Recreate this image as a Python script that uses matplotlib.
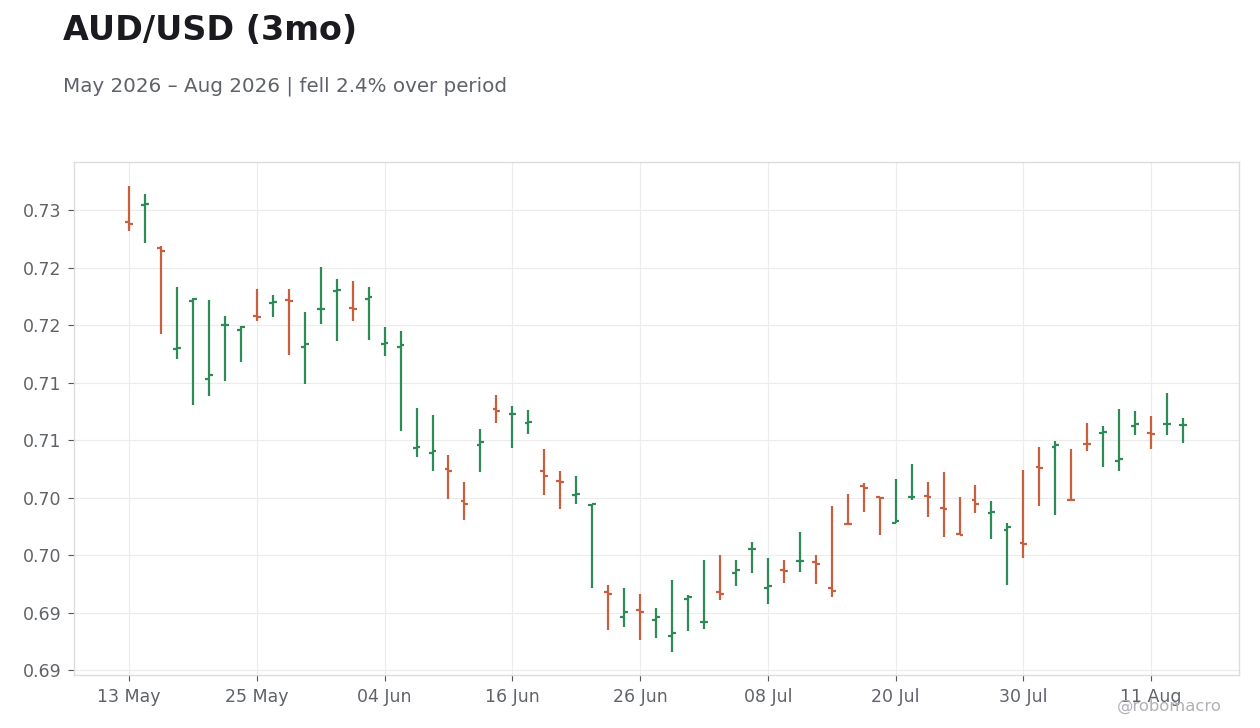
import matplotlib
matplotlib.use("Agg")
import matplotlib.pyplot as plt
import numpy as np
import pandas as pd

# ---- data ----
start_date = "2026-05-13"
n_bars = 67

opens = [0.72901, 0.73049, 0.72674, 0.71792, 0.72213, 0.71530, 0.72001, 0.71957, 0.72082, 0.72195,
         0.72221, 0.71809, 0.72140, 0.72297, 0.72152, 0.72233, 0.71838, 0.71812, 0.70932, 0.70889,
         0.70749, 0.70470, 0.70958, 0.71272, 0.71228, 0.71150, 0.70732, 0.70645, 0.70523, 0.70436,
         0.69678, 0.69460, 0.69521, 0.69434, 0.69294, 0.69617, 0.69416, 0.69678, 0.69843, 0.70052,
         0.69713, 0.69869, 0.69948, 0.69939, 0.69713, 0.70273, 0.70601, 0.70505, 0.70279, 0.70505,
         0.70514, 0.70409, 0.70183, 0.70479, 0.70366, 0.70218, 0.70105, 0.70767, 0.70941, 0.70481,
         0.70969, 0.71063, 0.70819, 0.71124, 0.71066, 0.71141, 0.71132]
highs = [0.73212, 0.73142, 0.72686, 0.72332, 0.72240, 0.72219, 0.72079, 0.71992, 0.72314, 0.72262,
         0.72314, 0.72114, 0.72506, 0.72402, 0.72384, 0.72332, 0.71983, 0.71949, 0.71278, 0.71217,
         0.70868, 0.70633, 0.71095, 0.71391, 0.71295, 0.71260, 0.70921, 0.70729, 0.70686, 0.70448,
         0.69736, 0.69710, 0.69666, 0.69544, 0.69788, 0.69649, 0.69955, 0.69997, 0.69955, 0.70110,
         0.69971, 0.69962, 0.70205, 0.69997, 0.70424, 0.70529, 0.70625, 0.70507, 0.70659, 0.70790,
         0.70633, 0.70720, 0.70503, 0.70607, 0.70468, 0.70279, 0.70741, 0.70938, 0.70993, 0.70921,
         0.71147, 0.71121, 0.71269, 0.71252, 0.71208, 0.71408, 0.71191]
lows = [0.72822, 0.72713, 0.71920, 0.71707, 0.71307, 0.71385, 0.71516, 0.71681, 0.72038, 0.72073,
        0.71742, 0.71490, 0.72012, 0.71864, 0.72038, 0.71873, 0.71733, 0.71080, 0.70854, 0.70732,
        0.70488, 0.70305, 0.70723, 0.71150, 0.70932, 0.71054, 0.70523, 0.70401, 0.70444, 0.69713,
        0.69347, 0.69373, 0.69260, 0.69277, 0.69155, 0.69338, 0.69355, 0.69608, 0.69730, 0.69843,
        0.69573, 0.69756, 0.69852, 0.69747, 0.69634, 0.70268, 0.70375, 0.70174, 0.70276, 0.70479,
        0.70331, 0.70157, 0.70172, 0.70366, 0.70139, 0.69739, 0.69974, 0.70427, 0.70348, 0.70477,
        0.70906, 0.70767, 0.70732, 0.71045, 0.70923, 0.71045, 0.70976]
closes = [0.72883, 0.73057, 0.72648, 0.71801, 0.72233, 0.71568, 0.72005, 0.71986, 0.72071, 0.72204,
          0.72213, 0.71838, 0.72143, 0.72306, 0.72140, 0.72245, 0.71847, 0.71827, 0.70941, 0.70906,
          0.70732, 0.70444, 0.70984, 0.71254, 0.71231, 0.71159, 0.70688, 0.70636, 0.70531, 0.70444,
          0.69660, 0.69504, 0.69504, 0.69460, 0.69321, 0.69634, 0.69419, 0.69660, 0.69869, 0.70055,
          0.69730, 0.69861, 0.69951, 0.69922, 0.69686, 0.70270, 0.70584, 0.70497, 0.70296, 0.70508,
          0.70505, 0.70401, 0.70174, 0.70444, 0.70375, 0.70244, 0.70096, 0.70758, 0.70958, 0.70479,
          0.70967, 0.71071, 0.70836, 0.71141, 0.71057, 0.71144, 0.71135]

ytick_values = [0.690, 0.695, 0.700, 0.705, 0.710, 0.715, 0.720, 0.725, 0.730]
ytick_labels = ["0.69", "0.69", "0.70", "0.70", "0.71", "0.71", "0.72", "0.72", "0.73"]
xtick_every = 8

title = "AUD/USD (3mo)"
subtitle = "May 2026 \u2013 Aug 2026 | fell 2.4% over period"
watermark = "@robomacro"

# ---- styling ----
UP = "#2e8b57"
DOWN = "#c8603f"
GRID = "#ececec"
SPINE = "#dcdcdc"
TXT = "#5f6368"

dates = pd.bdate_range(start_date, periods=n_bars)
x = np.arange(n_bars)
o = np.array(opens); h = np.array(highs); l = np.array(lows); c = np.array(closes)
cols = np.where(c >= o, UP, DOWN)

fig = plt.figure(figsize=(12.6, 7.28), dpi=100)
ax = fig.add_axes([74 / 1260, 1 - 675 / 728, (1239 - 74) / 1260, (675 - 162) / 728])

w = 0.24
ax.vlines(x, l, h, colors=cols, linewidth=1.6, zorder=3)
ax.hlines(o, x - w, x, colors=cols, linewidth=1.6, zorder=3)
ax.hlines(c, x, x + w, colors=cols, linewidth=1.6, zorder=3)

ax.set_xlim(-3.45, 69.5)
ax.set_ylim(0.68957, 0.73421)

xt = x[::xtick_every]
ax.set_xticks(xt)
ax.set_xticklabels([dates[i].strftime("%d %b") for i in xt])
ax.set_yticks(ytick_values)
ax.set_yticklabels(ytick_labels)

ax.grid(True, color=GRID, linewidth=0.8, zorder=0)
ax.set_axisbelow(True)
for s in ax.spines.values():
    s.set_color(SPINE)
    s.set_linewidth(1.0)
ax.tick_params(axis="both", colors="#555555", labelcolor=TXT, labelsize=12.5,
               length=4, width=0.8, pad=5)

fig.text(63 / 1260, 1 - 40 / 728, title, fontsize=24, fontweight="bold",
         color="#1a1a1f", ha="left", va="baseline")
fig.text(63 / 1260, 1 - 92 / 728, subtitle, fontsize=14.3, color=TXT,
         ha="left", va="baseline")
fig.text(1222 / 1260, 1 - 711 / 728, watermark, fontsize=11.8, color="#b0b0b6",
         ha="right", va="baseline")

fig.savefig("out.png", dpi=100)
